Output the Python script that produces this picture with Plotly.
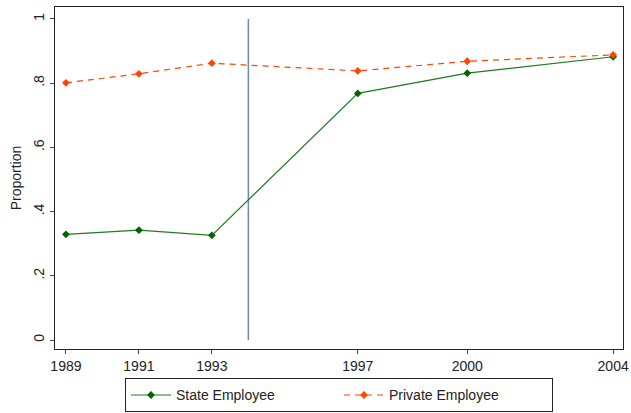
import plotly.graph_objects as go

years = [1989, 1991, 1993, 1997, 2000, 2004]
state = [0.329, 0.342, 0.326, 0.768, 0.831, 0.882]
private = [0.801, 0.829, 0.862, 0.838, 0.868, 0.888]
vline_x = [1994, 1994]
vline_y = [0, 1]
ytick_vals = [0, 0.2, 0.4, 0.6, 0.8, 1]
ytick_text = ["0", ".2", ".4", ".6", ".8", "1"]

FONT = "Liberation Sans, Arial, sans-serif"

fig = go.Figure()
fig.add_trace(go.Scatter(
    x=vline_x, y=vline_y, mode="lines", showlegend=False, hoverinfo="skip",
    line=dict(color="#6B8CAD", width=1.5)))
fig.add_trace(go.Scatter(
    x=years, y=state, mode="lines+markers", name="State Employee",
    line=dict(color="#1E7B1E", width=1.2),
    marker=dict(color="#006400", size=6, symbol="diamond")))
fig.add_trace(go.Scatter(
    x=years, y=private, mode="lines+markers", name="Private Employee",
    line=dict(color="#FF4500", width=1.2, dash="6px,5px"),
    marker=dict(color="#FF4500", size=6, symbol="diamond")))

fig.update_layout(
    width=631, height=413,
    margin=dict(l=55, r=8, t=7, b=64, autoexpand=False),
    paper_bgcolor="white", plot_bgcolor="white",
    font=dict(family=FONT, size=14, color="#222"),
    legend=dict(orientation="h", x=0.5, xanchor="center", y=-0.086, yanchor="top",
                bordercolor="#222", borderwidth=1, font=dict(size=14),
                itemwidth=40, entrywidth=158, traceorder="normal",
                tracegroupgap=0),
    showlegend=True,
)
fig.update_xaxes(
    range=[1988.70, 2004.27], tickmode="array", tickvals=years,
    ticktext=[str(y) for y in years], ticks="outside", ticklen=4,
    showline=True, linecolor="#222", linewidth=1.2, mirror=True,
    showgrid=False, zeroline=False, tickfont=dict(size=14), automargin=False)
fig.update_yaxes(
    range=[-0.028, 1.037], tickmode="array", tickvals=ytick_vals,
    ticktext=ytick_text, tickangle=-90, ticks="outside", ticklen=4,
    showline=True, linecolor="#222", linewidth=1.2, mirror=True,
    showgrid=False, zeroline=False, tickfont=dict(size=14), automargin=False,
    title=dict(text="Proportion", font=dict(size=14), standoff=6))

fig.write_html(
    "out.html",
    config={"displayModeBar": False},
    post_script="document.body.style.margin='0';document.body.style.overflow='hidden';",
)
